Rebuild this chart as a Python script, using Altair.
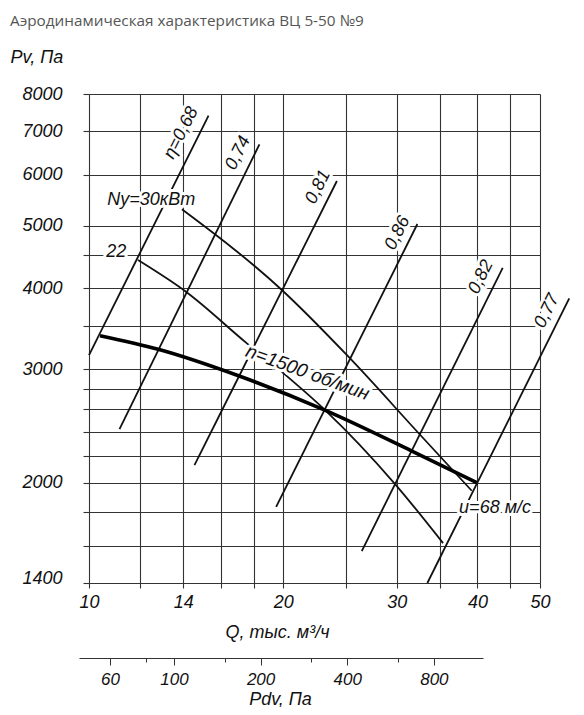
import json
import altair as alt
import pandas as pd

FONT = "Liberation Sans"
INK = "#111111"
GRID = "#333333"

TITLE = "Аэродинамическая характеристика ВЦ 5-50 №9"

# axes
q_grid = [10, 12, 14, 16, 18, 20, 25, 30, 35, 40, 45, 50]
q_labels = [10, 14, 20, 30, 40, 50]
p_grid = [1400, 1600, 1800, 2000, 2200, 2400, 2600, 2800, 3000, 3500,
          4000, 4500, 5000, 6000, 7000, 8000]
p_labels = [1400, 2000, 3000, 4000, 5000, 6000, 7000, 8000]
pdv_major = [60, 100, 200, 400, 800]
pdv_minor = [80, 150, 300, 600]

# pressure curve at n = 1500 rpm
main_q = [10.4, 12.8, 17.05, 23.2, 31.6, 39.9]
main_p = [3380, 3220, 2930, 2593, 2243, 2002]

# power lines
n30_q = [13.93, 19.9, 25.24, 32.51, 39.19]
n30_p = [5304, 3978, 3136, 2381, 1945]
n22_q = [11.91, 14.15, 17.57, 19.9, 23.22, 29.81, 35.38]
n22_p = [4426, 3950, 3289, 2971, 2593, 1992, 1614]

# efficiency lines
eta_text = ["η=0,68", "0,74", "0,81", "0,86", "0,82", "0,77"]
eta_q1 = [10.0, 11.15, 14.57, 19.5, 26.47, 33.45]
eta_p1 = [3155, 2423, 2131, 1837, 1569, 1400]
eta_q2 = [15.32, 18.37, 24.22, 32.28, 43.77, 55.5]
eta_p2 = [7405, 6686, 5867, 5033, 4306, 3862]
eta_lab_q = [13.90, 17.03, 22.65, 30.08, 40.51, 51.27]
eta_lab_p = [6961, 6482, 5742, 4874, 4166, 3690]

# other annotations
note_text = ["Ny=30кВт", "22", "n=1500 об/мин", "u=68 м/с"]
note_q = [12.49, 11.02, 21.82, 42.59]
note_p = [5483, 4559, 2964, 1832]
note_angle = [0, 0, 20, 0]
note_size = [18, 18, 19, 18]

W, H = 451, 489

xs = alt.Scale(type="log", domain=[10, 50], nice=False)
ys = alt.Scale(type="log", domain=[1400, 8000], nice=False)
pdv_s = alt.Scale(type="log", domain=[46.8, 1185], range=[-10, 394], nice=False)


def label_expr(vals):
    return f"indexof({json.dumps(vals)}, datum.value) >= 0 ? datum.label : ''"


axis_common = dict(
    grid=True, gridColor=GRID, gridWidth=1.1, tickColor=GRID, tickWidth=1.1,
    domain=False, format="d", labelFont=FONT, labelFontStyle="italic",
    labelFontSize=18, labelColor=INK, labelFlush=False, labelOverlap=False,
    titleFont=FONT, titleFontStyle="italic", titleFontWeight="normal",
    titleFontSize=18, titleColor=INK,
)

x_axis = alt.Axis(
    values=q_grid, labelExpr=label_expr(q_labels), tickSize=5, labelPadding=5,
    title="Q, тыс. м³/ч", titleX=188, titleY=54, titleBaseline="alphabetic",
    titleAlign="center", **axis_common,
)
y_axis = alt.Axis(
    values=p_grid, labelExpr=label_expr(p_labels), tickSize=6, labelPadding=21,
    labelBaseline={"condition": {"test": "datum.value == 1400", "value": "alphabetic"},
                   "value": "middle"},
    title="Pv, Па", titleAngle=0, titleX=-79, titleY=-32, titleAlign="left",
    titleBaseline="alphabetic", **axis_common,
)

axis_df = pd.DataFrame({"q": [10, 50], "p": [1400, 8000]})
axes_layer = alt.Chart(axis_df).mark_point(opacity=0).encode(
    x=alt.X("q:Q", scale=xs, axis=x_axis),
    y=alt.Y("p:Q", scale=ys, axis=y_axis),
)

pdv_major_df = pd.DataFrame({"pdv": pdv_major})
pdv_major_layer = alt.Chart(pdv_major_df).mark_point(opacity=0).encode(
    x=alt.X("pdv:Q", scale=pdv_s, axis=alt.Axis(
        orient="bottom", offset=75, values=pdv_major, format="d", grid=False,
        tickSize=7, tickColor=GRID, tickWidth=1, domain=True, domainColor=GRID,
        domainWidth=1.2, labelFont=FONT, labelFontStyle="italic", labelFontSize=17,
        labelColor=INK, labelPadding=6, labelFlush=False, labelOverlap=False,
        title="Pdv, Па", titleFont=FONT, titleFontStyle="italic",
        titleFontWeight="normal", titleFontSize=18, titleColor=INK,
        titleX=191, titleY=46, titleBaseline="alphabetic", titleAlign="center")),
    y=alt.value(0),
)
pdv_minor_df = pd.DataFrame({"pdv": pdv_minor})
pdv_minor_layer = alt.Chart(pdv_minor_df).mark_point(opacity=0).encode(
    x=alt.X("pdv:Q", scale=pdv_s, axis=alt.Axis(
        orient="bottom", offset=75, values=pdv_minor, grid=False, tickSize=4,
        tickColor=GRID, tickWidth=1, domain=False, labels=False, title=None)),
    y=alt.value(0),
)

eta_df = pd.DataFrame({"q1": eta_q1, "p1": eta_p1, "q2": eta_q2, "p2": eta_p2,
                       "text": eta_text, "lq": eta_lab_q, "lp": eta_lab_p})
eta_lines = alt.Chart(eta_df).mark_rule(color=INK, strokeWidth=1.8).encode(
    x=alt.X("q1:Q", scale=xs, axis=None), x2="q2",
    y=alt.Y("p1:Q", scale=ys, axis=None), y2="p2",
)

n_df = pd.concat([
    pd.DataFrame({"q": n30_q, "p": n30_p, "s": "30"}),
    pd.DataFrame({"q": n22_q, "p": n22_p, "s": "22"}),
])
n_lines = alt.Chart(n_df).mark_line(color=INK, strokeWidth=1.8, interpolate="monotone").encode(
    x=alt.X("q:Q", scale=xs, axis=None),
    y=alt.Y("p:Q", scale=ys, axis=None),
    detail="s:N",
)

main_df = pd.DataFrame({"q": main_q, "p": main_p})
main_line = alt.Chart(main_df).mark_line(color="black", strokeWidth=3.6, interpolate="monotone").encode(
    x=alt.X("q:Q", scale=xs, axis=None),
    y=alt.Y("p:Q", scale=ys, axis=None),
)

text_style = dict(font=FONT, fontStyle="italic", align="center", baseline="middle")


def eta_labels(halo):
    extra = dict(fill="white", stroke="white", strokeWidth=6, strokeJoin="round") if halo else dict(fill=INK)
    return alt.Chart(eta_df).mark_text(angle=296.57, fontSize=18, **text_style, **extra).encode(
        x=alt.X("lq:Q", scale=xs, axis=None),
        y=alt.Y("lp:Q", scale=ys, axis=None),
        text="text:N",
    )


note_df = pd.DataFrame({"text": note_text, "q": note_q, "p": note_p,
                        "a": note_angle, "fs": note_size})


def note_labels(halo):
    extra = dict(fill="white", stroke="white", strokeWidth=6, strokeJoin="round") if halo else dict(fill=INK)
    return alt.Chart(note_df).mark_text(**text_style, **extra).encode(
        x=alt.X("q:Q", scale=xs, axis=None),
        y=alt.Y("p:Q", scale=ys, axis=None),
        angle=alt.Angle("a:Q", scale=None),
        size=alt.Size("fs:Q", scale=None),
        text="text:N",
    )


title_df = pd.DataFrame({"t": [TITLE]})
title_layer = alt.Chart(title_df).mark_text(
    font="Open Sans", fontSize=15.3, color="#555555", align="left", baseline="alphabetic"
).encode(x=alt.value(-79), y=alt.value(-68), text="t:N")

chart = alt.layer(
    axes_layer, pdv_major_layer, pdv_minor_layer,
    eta_lines, n_lines,
    eta_labels(True), note_labels(True),
    main_line,
    eta_labels(False), note_labels(False),
    title_layer,
).resolve_scale(x="independent", y="independent").properties(
    width=W, height=H,
    autosize=alt.AutoSizeParams(type="none"),
    padding={"left": 81, "top": 86, "right": 36, "bottom": 124},
).configure_view(stroke=None).configure(background="white")

chart.save("out.html", embed_options={"renderer": "svg", "actions": False})
